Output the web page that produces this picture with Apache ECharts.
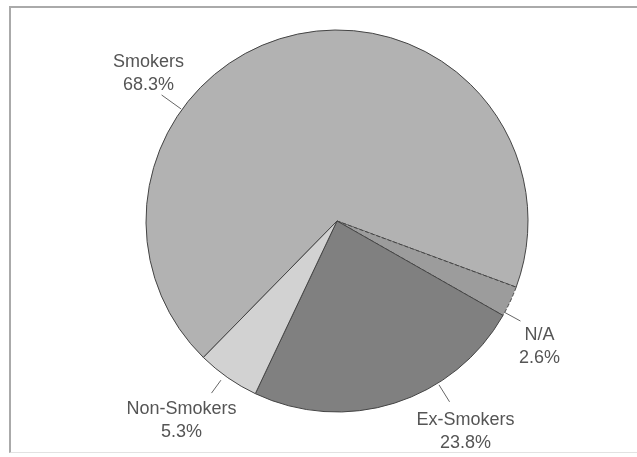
<!DOCTYPE html>
<html>
<head>
<meta charset="utf-8">
<script src="https://cdn.jsdelivr.net/npm/echarts@6/dist/echarts.min.js"></script>
<style>
  html, body { margin: 0; padding: 0; background: #fff; }
  #main { position: absolute; left: 9px; top: 6px; width: 628px; height: 447px;
          border-left: 2px solid #aaa; border-top: 2px solid #aaa; border-bottom: 1px solid #e2e2e2; box-sizing: border-box; }
</style>
</head>
<body>
<div id="main"></div>
<script>
// slices, clockwise from the lower-left edge of Smokers
var categories = ['Smokers', 'N/A', 'Ex-Smokers', 'Non-Smokers'];
var shares = [68.3, 2.6, 23.8, 5.3];
var sliceColors = ['#b2b2b2', '#9c9c9c', '#808080', '#d2d2d2'];

// label line placement: angle where it leaves the pie, start/end distance past the rim,
// and the offset of the text centre from the line end
var lineAngle = [144.3, -28.6, -58.1, -126.1];
var lineFrom = [1, 0, 2, 6];
var lineTo = [25, 18, 22, 22];
var textOffset = [[-13, -21], [19, 25], [16, 30], [-30, 27]];

var chart = echarts.init(document.getElementById('main'));
var ox = 11, oy = 8;               // chart origin inside the page
var cx = 337 - ox, cy = 221 - oy, R = 191;

chart.setOption({
  animation: false,
  series: [{
    type: 'pie',
    center: [cx, cy],
    radius: R,
    startAngle: 225.6,
    clockwise: true,
    avoidLabelOverlap: false,
    data: categories.map(function (name, i) {
      return {
        name: name,
        value: shares[i],
        itemStyle: {
          color: sliceColors[i],
          borderColor: '#444',
          borderWidth: 1,
          borderType: (i === 1) ? 'dashed' : 'solid'
        }
      };
    }),
    label: {
      show: true,
      formatter: function (p) { return p.name + '\n' + p.value.toFixed(1) + '%'; },
      fontFamily: 'Liberation Sans, Arial, sans-serif',
      fontSize: 18,
      lineHeight: 23,
      color: '#555',
      align: 'center'
    },
    labelLine: { show: true, lineStyle: { color: '#666', width: 1 } },
    labelLayout: function (p) {
      var i = p.dataIndex;
      var a = lineAngle[i] * Math.PI / 180;
      var c = Math.cos(a), s = Math.sin(a);
      var p1 = [cx + (R + lineFrom[i]) * c, cy - (R + lineFrom[i]) * s];
      var p2 = [cx + (R + lineTo[i]) * c, cy - (R + lineTo[i]) * s];
      return {
        x: p2[0] + textOffset[i][0],
        y: p2[1] + textOffset[i][1],
        align: 'center', verticalAlign: 'middle',
        labelLinePoints: [p1, p2, p2]
      };
    }
  }]
});
</script>
</body>
</html>
